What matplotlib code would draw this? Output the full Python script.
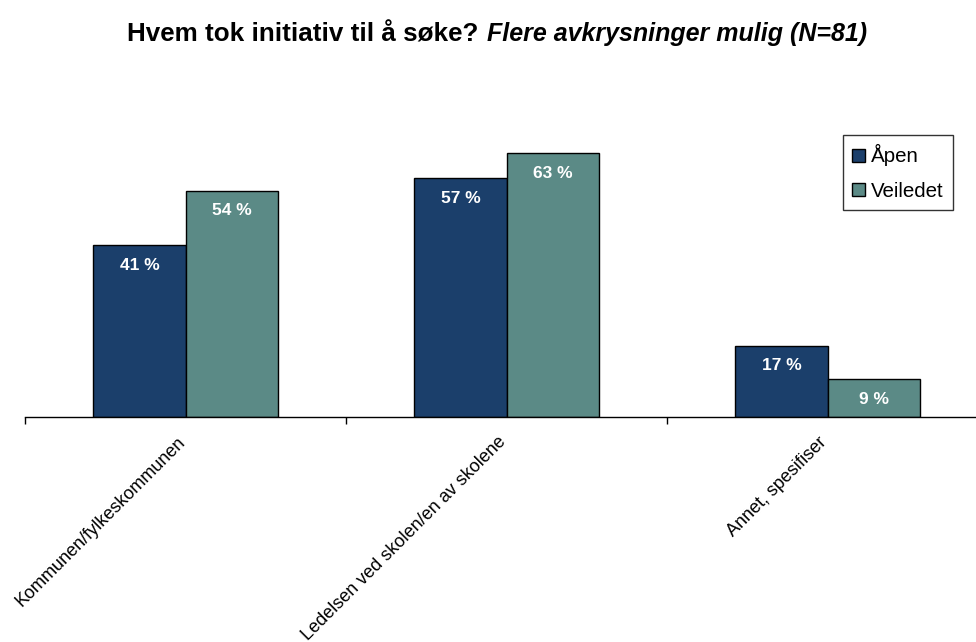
import numpy as np
import matplotlib.pyplot as plt
import matplotlib.transforms as mtransforms

plt.rcParams['font.family'] = ['Liberation Sans', 'DejaVu Sans']

kategorier = ["Kommunen/fylkeskommunen", "Ledelsen ved skolen/en av skolene", "Annet, spesifiser"]
aapen = [41, 57, 17]
veiledet = [54, 63, 9]
serier = ["Åpen", "Veiledet"]
farger = ["#1b3f6b", "#5b8a86"]

fig = plt.figure(figsize=(9.76, 6.42), dpi=100)
ax = fig.add_axes([25/976, 1 - 417/642, 963/976, 300/642])

x = np.arange(len(kategorier))
b = 0.287
for i, (verdier, navn) in enumerate(zip([aapen, veiledet], serier)):
    pos = x + (i - 0.5) * b
    ax.bar(pos, verdier, width=b, color=farger[i], edgecolor='black', linewidth=1, label=navn)
    for p, v in zip(pos, verdier):
        ax.text(p, v - 4.8, f"{v} %", ha='center', va='center', color='white',
                fontsize=12.5, fontweight='bold')

ax.set_xlim(-0.5, len(kategorier) - 0.5)
ax.set_ylim(0, 300/4.19)
ax.set_yticks([])
for s in ['top', 'right', 'left']:
    ax.spines[s].set_visible(False)
ax.spines['bottom'].set_linewidth(1)

ax.set_xticks(np.arange(len(kategorier) + 1) - 0.5)
ax.set_xticklabels([])
ax.tick_params(axis='x', which='major', direction='out', length=5, width=1)
ax.set_xticks(x, minor=True)
ax.set_xticklabels(kategorier, minor=True, rotation=45, ha='right', rotation_mode='anchor', fontsize=13)
ax.tick_params(axis='x', which='minor', length=0, pad=12)
forskyv = mtransforms.ScaledTranslation(-9/100, 0, fig.dpi_scale_trans)
for lbl in ax.get_xticklabels(minor=True):
    lbl.set_transform(lbl.get_transform() + forskyv)

leg = ax.legend(loc='upper left', bbox_to_anchor=((843 - 25)/963, (417 - 135)/300),
                fontsize=14.8, frameon=True, fancybox=False, edgecolor='black',
                handlelength=0.6, handleheight=0.6, handletextpad=0.3, borderpad=0.45,
                labelspacing=0.75, borderaxespad=0)
leg.get_frame().set_linewidth(1)

fig.text(478/976, 1 - 41/642, "Hvem tok initiativ til å søke?", ha='right', va='baseline',
         fontsize=18.7, fontweight='bold')
fig.text(487/976, 1 - 41/642, "Flere avkrysninger mulig (N=81)", ha='left', va='baseline',
         fontsize=18, fontweight='bold', style='italic')

fig.savefig("out.png", dpi=100)
